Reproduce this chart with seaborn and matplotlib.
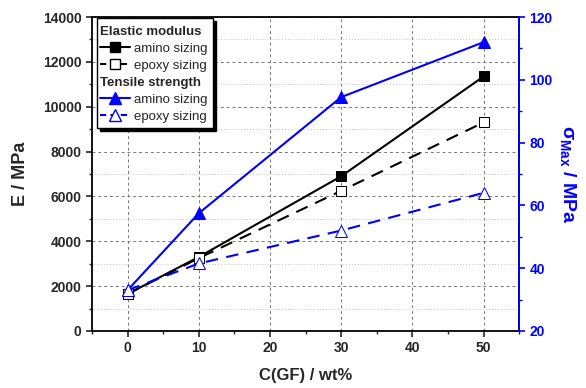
import numpy as np
import pandas as pd
import matplotlib
matplotlib.use("Agg")
import matplotlib.pyplot as plt
from matplotlib.lines import Line2D
from matplotlib.patches import Rectangle
from matplotlib.ticker import MultipleLocator
import seaborn as sns

# ─── Datos ──────────────────────────────────────────────────────────────
c_gf = [0, 10, 30, 50]
e_amino = [1650, 3300, 6900, 11350]
e_epoxy = [1650, 3250, 6250, 9300]
s_amino = [33.0, 57.5, 94.5, 112.0]
s_epoxy = [33.0, 41.5, 52.0, 64.0]

AZUL = "#0000ff"

sns.set_style("white")
plt.rcParams["font.family"] = ["Liberation Sans", "DejaVu Sans"]
plt.rcParams["font.weight"] = "bold"
plt.rcParams["mathtext.fontset"] = "custom"
plt.rcParams["mathtext.rm"] = "Liberation Sans:bold"
plt.rcParams["mathtext.it"] = "Liberation Sans:bold"
plt.rcParams["mathtext.bf"] = "Liberation Sans:bold"

W, H = 586, 388
fig = plt.figure(figsize=(W / 100, H / 100), dpi=100)
ax = fig.add_axes([0.157, 0.147, 0.729, 0.809])
ax2 = ax.twinx()

# módulo elástico (eje izquierdo)
sns.lineplot(x=c_gf, y=e_amino, ax=ax, color="black", lw=1.5,
             marker="s", markersize=7, markeredgecolor="black", zorder=3)
sns.lineplot(x=c_gf, y=e_epoxy, ax=ax, color="black", lw=1.5,
             marker="s", markersize=7, markerfacecolor="white",
             markeredgecolor="black", zorder=3)
ax.lines[1].set_dashes((6, 4))

# resistencia a tracción (eje derecho)
sns.lineplot(x=c_gf, y=s_amino, ax=ax2, color=AZUL, lw=1.5,
             marker="^", markersize=8, markeredgecolor=AZUL)
sns.lineplot(x=c_gf, y=s_epoxy, ax=ax2, color=AZUL, lw=1.5,
             marker="^", markersize=8, markerfacecolor="white",
             markeredgecolor=AZUL)
ax2.lines[1].set_dashes((6, 4))

ax.set_xlim(-5, 55)
ax.set_ylim(0, 14000)
ax2.set_ylim(20, 120)

ax.xaxis.set_major_locator(MultipleLocator(10))
ax.xaxis.set_minor_locator(MultipleLocator(5))
ax.yaxis.set_major_locator(MultipleLocator(2000))
ax.yaxis.set_minor_locator(MultipleLocator(1000))
ax2.yaxis.set_major_locator(MultipleLocator(20))
ax2.yaxis.set_minor_locator(MultipleLocator(10))

ax.grid(which="major", color="#777777", ls=(0, (3, 3)), lw=0.7)
ax.grid(which="minor", axis="y", color="#c4c4c4", ls=(0, (1, 2)), lw=0.7)
ax.set_axisbelow(True)

for s in ax.spines.values():
    s.set_linewidth(1.3)
    s.set_color("black")
ax2.spines["right"].set_color(AZUL)
ax2.spines["right"].set_linewidth(1.3)
for k in ("left", "top", "bottom"):
    ax2.spines[k].set_visible(False)

ax.tick_params(which="major", direction="out", length=4, width=1.2,
               labelsize=10, left=True, bottom=True)
ax.tick_params(which="minor", direction="out", length=2.5, width=1.0,
               left=True, bottom=True)
ax2.tick_params(which="major", direction="out", length=4, width=1.2,
                labelsize=10, colors=AZUL, right=True)
ax2.tick_params(which="minor", direction="out", length=2.5, width=1.0,
                colors=AZUL, right=True)
for lab in ax.get_xticklabels() + ax.get_yticklabels() + ax2.get_yticklabels():
    lab.set_fontweight("bold")

ax.set_xlabel("C(GF) / wt%", fontsize=12, fontweight="bold", labelpad=9)
ax.set_ylabel("E / MPa", fontsize=13, fontweight="bold", labelpad=10)
ax2.set_ylabel(r"$\sigma_{Max}$ / MPa", fontsize=14, fontweight="bold",
               color=AZUL, rotation=270, labelpad=18)

# ─── Leyenda con encabezados (marco dibujado a mano, con sombra) ──────────
x0, y0, bw, bh = 97, 18, 116, 110   # píxeles desde arriba a la izquierda
sombra = Rectangle(((x0 + 3) / W, 1 - (y0 + bh + 3) / H), bw / W, bh / H,
                   transform=fig.transFigure, facecolor="black",
                   edgecolor="black", zorder=4.8, clip_on=False)
marco = Rectangle((x0 / W, 1 - (y0 + bh) / H), bw / W, bh / H,
                  transform=fig.transFigure, facecolor="white",
                  edgecolor="black", lw=1.0, zorder=4.9, clip_on=False)
ax2.add_patch(sombra)
ax2.add_patch(marco)

vacio = Line2D([], [], color="none")
handles = [
    vacio,
    Line2D([], [], color="black", lw=1.5, marker="s", markersize=7),
    Line2D([], [], color="black", lw=1.5, ls=(0, (3, 2)), marker="s",
           markersize=7, markerfacecolor="white"),
    vacio,
    Line2D([], [], color=AZUL, lw=1.5, marker="^", markersize=8),
    Line2D([], [], color=AZUL, lw=1.5, ls=(0, (3, 2)), marker="^",
           markersize=8, markerfacecolor="white"),
]
labels = ["Elastic modulus", "amino sizing", "epoxy sizing",
          "Tensile strength", "amino sizing", "epoxy sizing"]
leg = ax2.legend(handles, labels, loc="upper left",
                 bbox_to_anchor=(x0 / W, 1 - (y0 + 5) / H),
                 bbox_transform=fig.transFigure, fontsize=9.5,
                 handlelength=2.3, handletextpad=0.3, labelspacing=0.36,
                 borderpad=0.2, borderaxespad=0, frameon=False)
leg.set_zorder(5)
for i, t in enumerate(leg.get_texts()):
    if i in (0, 3):
        t.set_fontweight("bold")
        t.set_position((-34, 0))
    else:
        t.set_fontweight("normal")

fig.savefig("out.png", dpi=100)
